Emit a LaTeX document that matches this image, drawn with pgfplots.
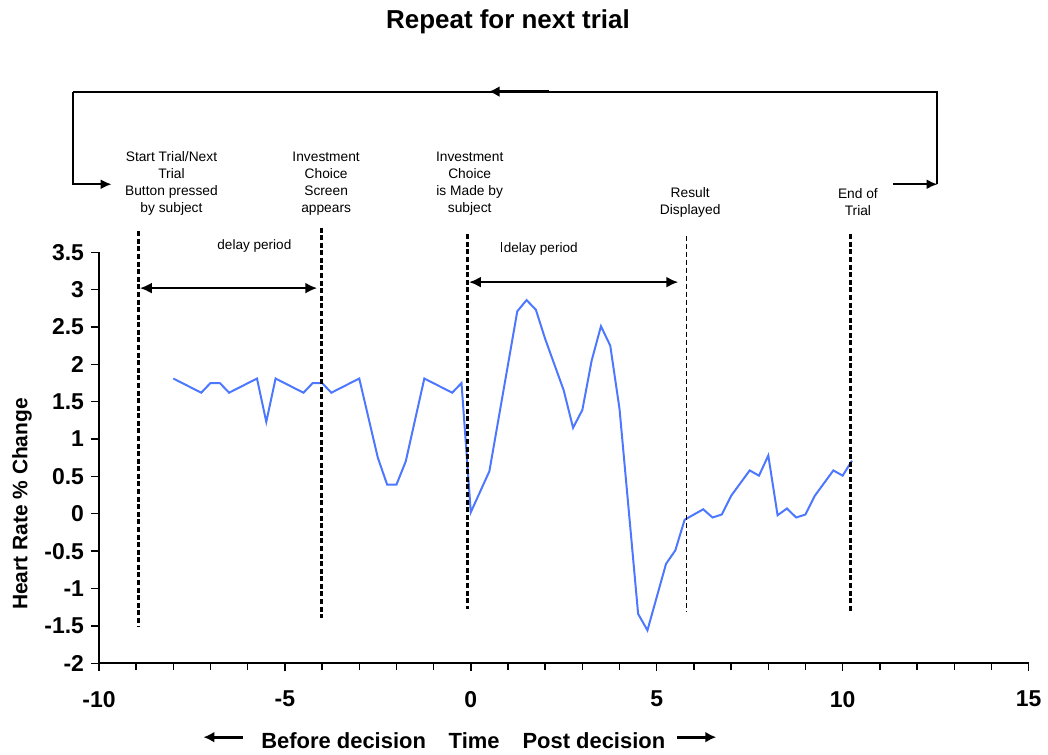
\documentclass[border=0pt]{standalone}
\usepackage{fontspec}
\setmainfont{Liberation Sans}
\usepackage{pgfplots}
\pgfplotsset{compat=1.18}
\usetikzlibrary{arrows.meta}
\definecolor{hrblue}{RGB}{77,119,255}
\begin{document}
\begin{tikzpicture}
\begin{axis}[
  scale only axis, width=466pt, height=206pt,
  xmin=-10, xmax=15, ymin=-2, ymax=3.5,
  axis x line=bottom, axis y line=left,
  axis line style={-, line width=0.8pt},
  xtick={-10,-5,...,15}, minor x tick num=4,
  ytick={-2,-1.5,...,3.5},
  tick align=outside, major tick length=4pt, minor tick length=3.5pt,
  tick style={black, line width=0.7pt},
  every tick label/.append style={font=\fontsize{11.5}{13}\selectfont\bfseries},
  /pgf/number format/assume math mode=true,
  xticklabel style={yshift=-6.5pt},
  clip=false,
]
% invisible bounding box
\path (axis cs:-12.661,-3.151) rectangle (axis cs:15.451,6.876);

\addplot[hrblue, line width=1pt, mark=none] coordinates {
(-8,1.81) (-7.25,1.62) (-7,1.75) (-6.75,1.75) (-6.5,1.62) (-5.75,1.81)
(-5.5,1.23) (-5.25,1.81) (-4.5,1.62) (-4.25,1.75) (-4,1.75) (-3.75,1.62)
(-3,1.81) (-2.5,0.75) (-2.25,0.39) (-2,0.39) (-1.75,0.7) (-1.25,1.81)
(-0.5,1.62) (-0.25,1.75) (0,0.02) (0.5,0.57) (1.25,2.71) (1.5,2.86)
(1.75,2.73) (2,2.34) (2.5,1.65) (2.75,1.15) (3,1.39) (3.25,2.05)
(3.5,2.51) (3.75,2.25) (4,1.40) (4.5,-1.34) (4.75,-1.56) (5.25,-0.67)
(5.5,-0.49) (5.75,-0.08) (6.25,0.06) (6.5,-0.05) (6.75,-0.01) (7,0.24)
(7.5,0.58) (7.75,0.51) (8,0.78) (8.25,-0.02) (8.5,0.07) (8.75,-0.05)
(9,-0.01) (9.25,0.24) (9.75,0.58) (10,0.51) (10.25,0.71)
};

% vertical event lines
\draw[line width=1.5pt, dash pattern=on 2.5pt off 1.3pt] (axis cs:-8.93,3.78) -- (axis cs:-8.93,-1.51);
\draw[line width=1.5pt, dash pattern=on 2.5pt off 1.3pt] (axis cs:-4.02,3.83) -- (axis cs:-4.02,-1.40);
\draw[line width=1.5pt, dash pattern=on 2.5pt off 1.3pt] (axis cs:-0.08,3.74) -- (axis cs:-0.08,-1.27);
\draw[line width=0.6pt, dash pattern=on 2.5pt off 1.5pt] (axis cs:5.79,3.72) -- (axis cs:5.79,-1.30);
\draw[line width=1.5pt, dash pattern=on 2.5pt off 1.3pt] (axis cs:10.22,3.74) -- (axis cs:10.22,-1.30);

% delay arrows
\draw[line width=1.1pt, {Latex[length=6pt,width=5.5pt]}-{Latex[length=6pt,width=5.5pt]}] (axis cs:-8.90,3.02) -- (axis cs:-4.13,3.02);
\draw[line width=1.1pt, {Latex[length=6pt,width=5.5pt]}-{Latex[length=6pt,width=5.5pt]}] (axis cs:-0.05,3.10) -- (axis cs:5.58,3.10);
\node[font=\fontsize{6.8}{8}\selectfont] at (axis cs:-5.82,3.58) {delay period};
\node[font=\fontsize{6.8}{8}\selectfont] at (axis cs:1.88,3.54) {delay period};
\draw[line width=0.4pt] (axis cs:0.83,3.64) -- (axis cs:0.83,3.50);

% event annotations
\node[align=center, font=\fontsize{6.9}{8.5}\selectfont] at (axis cs:-8.05,4.42) {Start Trial/Next\\Trial\\Button pressed\\by subject};
\node[align=center, font=\fontsize{6.9}{8.5}\selectfont] at (axis cs:-3.89,4.42) {Investment\\Choice\\Screen\\appears};
\node[align=center, font=\fontsize{6.9}{8.5}\selectfont] at (axis cs:-0.03,4.42) {Investment\\Choice\\is Made by\\subject};
\node[align=center, font=\fontsize{6.9}{8.5}\selectfont] at (axis cs:5.90,4.17) {Result\\Displayed};
\node[align=center, font=\fontsize{6.9}{8.5}\selectfont] at (axis cs:10.41,4.17) {End of\\Trial};

% repeat loop
\draw[line width=1pt, -{Latex[length=5.5pt,width=5pt]}] (axis cs:-10.70,5.65) -- (axis cs:-10.70,4.41) -- (axis cs:-9.66,4.41);
\draw[line width=1pt, -{Latex[length=5.5pt,width=5pt]}] (axis cs:11.35,4.41) -- (axis cs:12.55,4.41);
\draw[line width=1pt] (axis cs:12.55,4.41) -- (axis cs:12.55,5.65) -- (axis cs:-10.70,5.65);
\draw[line width=1.6pt, -{Latex[length=5.5pt,width=5.5pt]}] (axis cs:2.09,5.65) -- (axis cs:0.48,5.65);

\node[font=\fontsize{13}{15}\selectfont\bfseries] at (axis cs:1.0,6.58) {Repeat for next trial};

% axis labels
\node[rotate=90, font=\fontsize{10.5}{12}\selectfont\bfseries] at (axis cs:-12.07,0.13) {Heart Rate \% Change};
\node[font=\fontsize{11}{13}\selectfont\bfseries] at (axis cs:-3.42,-3.03) {Before decision};
\node[font=\fontsize{11}{13}\selectfont\bfseries] at (axis cs:0.09,-3.03) {Time};
\node[font=\fontsize{11}{13}\selectfont\bfseries] at (axis cs:3.31,-3.03) {Post decision};
\draw[line width=1.5pt, -{Latex[length=5.5pt,width=5.5pt]}] (axis cs:-6.12,-2.99) -- (axis cs:-7.19,-2.99);
\draw[line width=1.5pt, -{Latex[length=5.5pt,width=5.5pt]}] (axis cs:5.55,-2.99) -- (axis cs:6.60,-2.99);
\end{axis}
\end{tikzpicture}
\end{document}
